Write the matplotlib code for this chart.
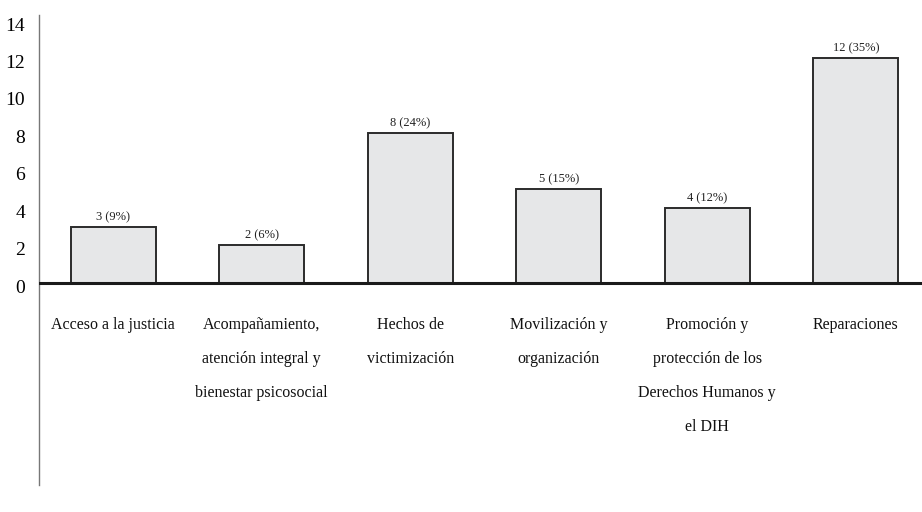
import numpy as np
import matplotlib.pyplot as plt
from matplotlib.transforms import ScaledTranslation

# Datos por categoría
categorias = ["Acceso a la justicia",
              "Acompañamiento,\natención integral y\nbienestar psicosocial",
              "Hechos de\nvictimización",
              "Movilización y\norganización",
              "Promoción y\nprotección de los\nDerechos Humanos y\nel DIH",
              "Reparaciones"]
valores = [3, 2, 8, 5, 4, 12]
porcentajes = [9, 6, 24, 15, 12, 35]

plt.rcParams['font.family'] = ['Liberation Serif', 'DejaVu Serif']

fig = plt.figure(figsize=(9.22, 5.12), dpi=100)
ax = fig.add_axes([39 / 922, 27 / 512, 891 / 922, 470 / 512])

x = np.arange(len(categorias))
ax.bar(x, valores, width=0.57, color='#e6e7e8', edgecolor='#2b2b2b', linewidth=1.4, zorder=2)

for xi, v, p in zip(x, valores, porcentajes):
    ax.text(xi, v + 0.2, f"{v} ({p}%)", ha='center', va='bottom', fontsize=9, color='#222222')

# nombres de categoría debajo de la línea del cero
for xi, nombre in zip(x, categorias):
    ax.annotate(nombre, (xi, 0), xytext=(0, -25), textcoords='offset points',
                ha='center', va='top', fontsize=11.5, linespacing=2.5, color='#111111')

ax.axhline(0, color='#1a1a1a', linewidth=2.2, zorder=3)

ax.set_xlim(-0.5, 5.5)
ax.set_ylim(-10.8, 14.3)
ax.set_yticks(range(0, 15, 2))
ax.set_yticklabels([str(t) for t in range(0, 15, 2)], fontsize=14)
ax.tick_params(axis='y', length=0, pad=10)
ax.set_xticks([])
for tick in ax.yaxis.get_major_ticks():
    tick.label1.set_transform(tick.label1.get_transform()
                              + ScaledTranslation(0, -2.5 / 72, fig.dpi_scale_trans))

for s in ['top', 'right', 'bottom']:
    ax.spines[s].set_visible(False)
ax.spines['left'].set_color('#777777')
ax.spines['left'].set_linewidth(1.0)

fig.savefig('out.png', dpi=100)
